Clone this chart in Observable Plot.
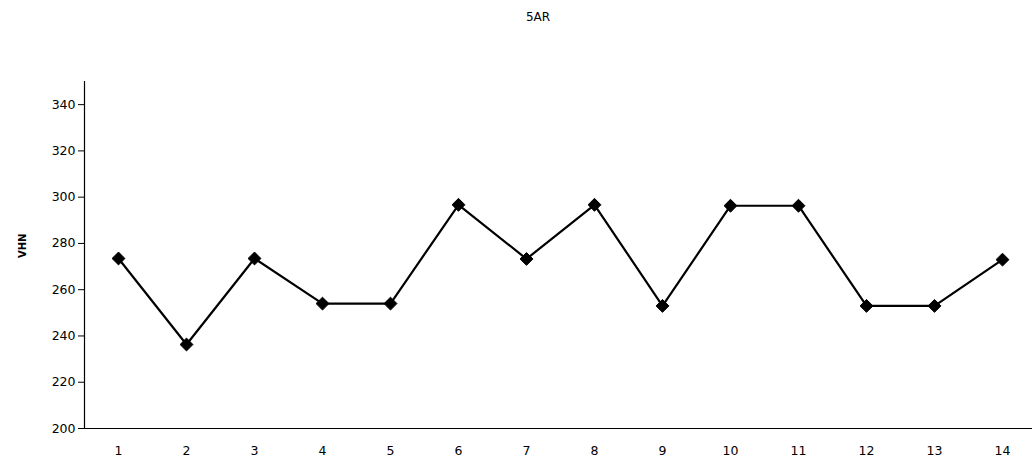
<!DOCTYPE html>
<html>
<head>
<meta charset="utf-8">
<script src="https://cdn.jsdelivr.net/npm/d3@7"></script>
<script src="https://cdn.jsdelivr.net/npm/@observablehq/plot@0.6"></script>
<style>
  html, body { margin: 0; padding: 0; background: #fff; }
  #wrap { position: relative; width: 1032px; height: 462px; overflow: hidden; background: #fff; }
  #title {
    position: absolute; top: 10px; left: 538px; transform: translateX(-50%); z-index: 2;
    font: 12px "DejaVu Sans", sans-serif; color: #000; white-space: nowrap;
  }
  #chart { position: absolute; top: 0; left: 0; z-index: 1; }
</style>
</head>
<body>
<div id="wrap">
  <div id="chart"></div>
  <div id="title">5AR</div>
</div>
<script>
// Hardness readings (Vickers) along the 14 indentation positions of sample 5AR
const positions = [1, 2, 3, 4, 5, 6, 7, 8, 9, 10, 11, 12, 13, 14];
const vhn = [273.5, 236.3, 273.5, 254, 254, 296.7, 273.3, 296.7, 253, 296.3, 296.3, 253, 253, 273];
const yTicks = [200, 220, 240, 260, 280, 300, 320, 340];
const yLabel = "VHN";

const data = positions.map((p, i) => ({position: p, vhn: vhn[i]}));

const chart = Plot.plot({
  width: 1032,
  height: 462,
  marginTop: 81,
  marginBottom: 34,
  marginLeft: 84,
  marginRight: -4,
  style: {fontFamily: "DejaVu Sans, sans-serif", fontSize: "12.5px", color: "#000", background: "transparent"},
  x: {type: "point", domain: positions, padding: 0.5, label: null},
  y: {domain: [200, 350], label: null},
  marks: [
    Plot.frame({anchor: "left", stroke: "#000", strokeWidth: 1.2}),
    Plot.frame({anchor: "bottom", stroke: "#000", strokeWidth: 1.2}),
    Plot.axisY({ticks: yTicks, tickSize: 6, tickPadding: 3, label: null, fontSize: 12.5}),
    Plot.axisX({tickSize: 0, tickPadding: 18, label: null, fontSize: 12.5}),
    Plot.text([yLabel], {frameAnchor: "left", dx: -62, dy: 3, rotate: -90, fontWeight: "bold", fontSize: 10}),
    Plot.line(data, {x: "position", y: "vhn", stroke: "#000", strokeWidth: 2.2}),
    Plot.dot(data, {x: "position", y: "vhn", symbol: "diamond2", r: 5.8, fill: "#000", stroke: "#000", strokeWidth: 1})
  ]
});

document.getElementById("chart").appendChild(chart);
</script>
</body>
</html>
